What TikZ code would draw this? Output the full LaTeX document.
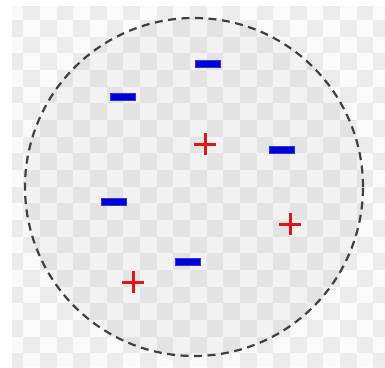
\documentclass[tikz,border=0pt]{standalone}
\usetikzlibrary{positioning}

\definecolor{checkgrey}{HTML}{EBEBEB}
\definecolor{checkwhite}{HTML}{FAFAFA}
\definecolor{chargeblue}{HTML}{0000D8}
\definecolor{chargered}{HTML}{E01515}

\begin{document}
\begin{tikzpicture}[
    x=1pt, y=-1pt,
    minuscharge/.style={draw=chargeblue!80, fill=chargeblue, rectangle, minimum width=25pt, minimum height=7pt, inner sep=0pt},
    pluscharge/.style={rectangle, minimum size=22pt, inner sep=0pt,
        path picture={\draw[chargered, line width=3pt]
            (path picture bounding box.north) -- (path picture bounding box.south)
            (path picture bounding box.west) -- (path picture bounding box.east);}}
]
\useasboundingbox (0,0) rectangle (385,367);

% checkered background
\fill[checkwhite] (12,6) rectangle (385,367);
\begin{scope}
\clip (12,6) rectangle (385,367);
\foreach \r in {0,...,21} {
  \foreach \c in {0,...,22} {
    \pgfmathtruncatemacro\odd{mod(\r+\c,2)}
    \ifnum\odd=1
      \fill[checkgrey] ({6.67+16.667*\c},{3.33+16.667*\r}) rectangle ++(16.667,16.667);
    \fi
  }
}
\end{scope}

% the sphere
\node (ball) [circle, minimum size=338pt, inner sep=0pt, draw=black!75, line width=2.2pt,
    dash pattern=on 8pt off 5.5pt, fill=black, fill opacity=0.03, draw opacity=1] at (194,187) {};

% charges
\node (m1) [minuscharge] at (208,64) {};
\node (m2) [minuscharge] at (123,97) {};
\node (m3) [minuscharge] at (282,150) {};
\node (m4) [minuscharge] at (114,202) {};
\node (m5) [minuscharge] at (188,262) {};

\node (p1) [pluscharge] at (205,144) {};
\node (p2) [pluscharge] at (290,224) {};
\node (p3) [pluscharge] at (133,282) {};

\end{tikzpicture}
\end{document}
